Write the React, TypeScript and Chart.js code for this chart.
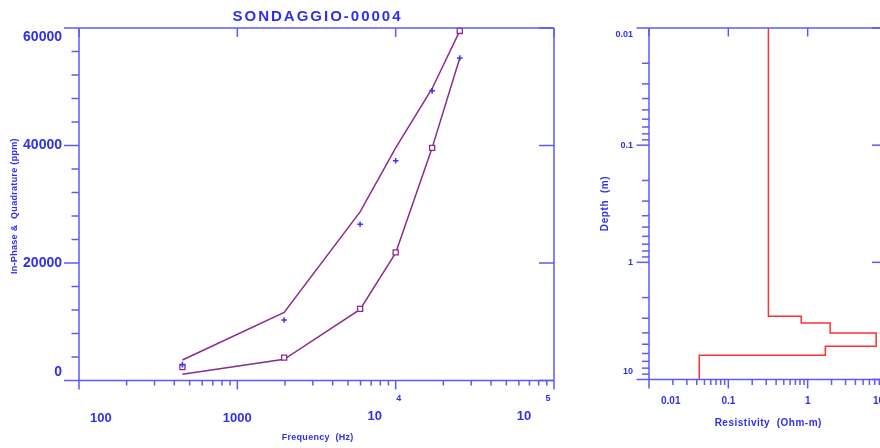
import React, { useEffect, useRef } from 'react';
import { Chart, registerables } from 'chart.js';

Chart.register(...registerables);

// ---------------- DATA ----------------
// Left panel: frequency sounding
const frequencies = [450, 1975, 5960, 10000, 17000, 25400];
const upperModel = [3490, 11600, 28700, 39600, 49700, 59500];
const lowerModel = [1050, 3600, 12100, 21700, 39600, 54900];
const plusObserved = [2700, 10300, 26600, 37400, 49300, 54900];
const squareObserved = [2300, 3900, 12200, 21800, 39600, 59500];

const freqMajorTicks = [100, 1000, 10000, 100000];
const freqMinorMultipliers = [2, 3, 4, 5, 6, 7, 8, 9];
const freqLabelBase = ['100', '1000', '10', '10'];
const freqLabelExp = ['', '', '4', '5'];

const ppmMajorTicks = [0, 20000, 40000, 60000];
const ppmMinorTicks = [4000, 8000, 12000, 16000, 24000, 28000, 32000, 36000, 44000, 48000, 52000, 56000];
const ppmLabels = ['0', '20000', '40000', '60000'];

// Right panel: layered resistivity model
const layerResistivity = [0.32, 0.83, 1.92, 7.3, 1.67, 0.043];
const layerBottomDepth = [2.89, 3.29, 4.01, 5.21, 6.22];
const depthMin = 0.01;
const depthMax = 10;
const resMin = 0.01;
const resMax = 10;

const resMajorTicks = [0.01, 0.1, 1, 10];
const resLabels = ['0.01', '0.1', '1', '10'];
const depthMajorTicks = [0.01, 0.1, 1, 10];
const depthLabels = ['0.01', '0.1', '1', '10'];
const logMinorMultipliers = [2, 3, 4, 5, 6, 7, 8, 9];

const titleText = 'SONDAGGIO-00004';

// ---------------- STYLE ----------------
const AXIS_COLOR = '#5a5aff';
const TEXT_COLOR = '#2f2ff0';
const MODEL_COLOR = '#8c2a90';
const PLUS_COLOR = '#3535ff';
const RED = '#ff3030';
const FONT = '"Liberation Sans", Arial, sans-serif';

function drawText(ctx: CanvasRenderingContext2D, s: string, x: number, y: number, size: number, align: string, spacing = 0, rotate = false) {
  ctx.save();
  ctx.font = `bold ${size}px ${FONT}`;
  ctx.fillStyle = TEXT_COLOR;
  ctx.textBaseline = 'middle';
  (ctx as any).letterSpacing = `${spacing}px`;
  ctx.translate(x, y);
  if (rotate) ctx.rotate(-Math.PI / 2);
  const w = ctx.measureText(s).width - spacing;
  const dx = align === 'center' ? -w / 2 : align === 'right' ? -w : 0;
  ctx.textAlign = 'left';
  ctx.fillText(s, dx, 0);
  ctx.restore();
}

function textWidth(ctx: CanvasRenderingContext2D, s: string, size: number) {
  ctx.save();
  ctx.font = `bold ${size}px ${FONT}`;
  (ctx as any).letterSpacing = '0px';
  const w = ctx.measureText(s).width;
  ctx.restore();
  return w;
}

function seg(ctx: CanvasRenderingContext2D, x1: number, y1: number, x2: number, y2: number) {
  ctx.beginPath();
  ctx.moveTo(x1, y1);
  ctx.lineTo(x2, y2);
  ctx.stroke();
}

function logMinors(majors: number[]) {
  const out: number[] = [];
  for (let i = 0; i < majors.length - 1; i++) {
    for (const m of logMinorMultipliers) out.push(majors[i] * m);
  }
  return out;
}

const leftAxesPlugin = {
  id: 'leftAxes',
  afterDraw(chart: any) {
    const ctx: CanvasRenderingContext2D = chart.ctx;
    const a = chart.chartArea;
    const xs = chart.scales.x;
    const ys = chart.scales.y;
    ctx.save();
    ctx.strokeStyle = AXIS_COLOR;
    ctx.lineWidth = 1.5;
    seg(ctx, a.left, a.top, a.right, a.top);
    seg(ctx, a.left, a.bottom, a.right, a.bottom);
    seg(ctx, a.left, a.top, a.left, a.bottom);
    seg(ctx, a.right, a.top, a.right, a.bottom);

    ppmMinorTicks.forEach((v) => {
      const p = ys.getPixelForValue(v);
      seg(ctx, a.left - 7.5, p, a.left, p);
    });
    ppmMajorTicks.forEach((v) => {
      const p = ys.getPixelForValue(v);
      seg(ctx, a.left - 15, p, a.left, p);
      seg(ctx, a.right - 15, p, a.right, p);
    });
    const fMinor: number[] = [];
    for (let i = 0; i < freqMajorTicks.length - 1; i++) {
      for (const m of freqMinorMultipliers) fMinor.push(freqMajorTicks[i] * m);
    }
    fMinor.forEach((v) => {
      const p = xs.getPixelForValue(v);
      seg(ctx, p, a.bottom, p, a.bottom + 5);
    });
    freqMajorTicks.forEach((v) => {
      const p = xs.getPixelForValue(v);
      seg(ctx, p, a.bottom, p, a.bottom + 9);
      seg(ctx, p, a.top, p, a.top + 9);
    });
    ctx.restore();

    // y labels
    ppmMajorTicks.forEach((v, i) => {
      let p = ys.getPixelForValue(v);
      p = Math.min(Math.max(p, a.top + 9), a.bottom - 8);
      drawText(ctx, ppmLabels[i], a.left - 17, p, 14, 'right');
    });

    // x labels
    freqMajorTicks.forEach((v, i) => {
      const p = xs.getPixelForValue(v);
      const base = freqLabelBase[i];
      const exp = freqLabelExp[i];
      const bw = textWidth(ctx, base, 13);
      if (!exp) {
        let cx = p;
        if (cx - bw / 2 < a.left + 11) cx = a.left + 11 + bw / 2;
        drawText(ctx, base, cx, 418.5, 13, 'center');
      } else {
        let bx = p - 21;
        let ex = p + 3;
        const ew = textWidth(ctx, exp, 9);
        const over = ex + ew / 2 - (a.right - 3.5);
        if (over > 0) {
          bx -= over;
          ex -= over;
        }
        drawText(ctx, base, bx, 416, 13, 'center');
        drawText(ctx, exp, ex, 399, 9, 'center');
      }
    });

    // titles
    const cx = (a.left + a.right) / 2;
    drawText(ctx, titleText, cx, 17, 15, 'center', 2);
    drawText(ctx, 'Frequency  (Hz)', cx + 1, 438, 9, 'center', 0.3);
    drawText(ctx, 'In-Phase &  Quadrature (ppm)', 15, (a.top + a.bottom) / 2 + 2, 9, 'center', 0.3, true);
  },
};

const rightAxesPlugin = {
  id: 'rightAxes',
  afterDraw(chart: any) {
    const ctx: CanvasRenderingContext2D = chart.ctx;
    const a = chart.chartArea;
    const xs = chart.scales.x;
    const ys = chart.scales.y;
    ctx.save();
    ctx.strokeStyle = AXIS_COLOR;
    ctx.lineWidth = 1.5;
    seg(ctx, a.left, a.top, a.right, a.top);
    seg(ctx, a.left, a.bottom, a.right, a.bottom);
    seg(ctx, a.left, a.top, a.left, a.bottom);
    seg(ctx, a.right, a.top, a.right, a.bottom);

    logMinors(depthMajorTicks).forEach((v) => {
      const p = ys.getPixelForValue(v);
      seg(ctx, a.left - 7, p, a.left, p);
    });
    depthMajorTicks.forEach((v) => {
      const p = ys.getPixelForValue(v);
      seg(ctx, a.left - 12.5, p, a.left, p);
      seg(ctx, a.right - 15, p, a.right, p);
    });
    logMinors(resMajorTicks).forEach((v) => {
      const p = xs.getPixelForValue(v);
      seg(ctx, p, a.bottom, p, a.bottom + 5.5);
    });
    resMajorTicks.forEach((v) => {
      const p = xs.getPixelForValue(v);
      seg(ctx, p, a.bottom, p, a.bottom + 9);
      seg(ctx, p, a.top, p, a.top + 8.5);
    });
    ctx.restore();

    depthMajorTicks.forEach((v, i) => {
      let p = ys.getPixelForValue(v);
      p = Math.min(Math.max(p, a.top + 7), a.bottom - 8);
      drawText(ctx, depthLabels[i], a.left - 16, p, 9, 'right');
    });
    resMajorTicks.forEach((v, i) => {
      const p = xs.getPixelForValue(v);
      const w = textWidth(ctx, resLabels[i], 10);
      let cx = p;
      if (cx - w / 2 < a.left + 12) cx = a.left + 12 + w / 2;
      if (cx + w / 2 > a.right - 3) cx = a.right - 3 - w / 2;
      drawText(ctx, resLabels[i], cx, 401, 10, 'center');
    });
    drawText(ctx, 'Resistivity  (Ohm-m)', (a.left + a.right) / 2, 423, 10, 'center', 0.5);
    drawText(ctx, 'Depth  (m)', 25, (a.top + a.bottom) / 2, 10, 'center', 0.6, true);
  },
};

function LeftChart() {
  const ref = useRef<HTMLCanvasElement>(null);
  useEffect(() => {
    const canvas = ref.current!;
    const chart = new Chart(canvas, {
      type: 'scatter',
      data: {
        datasets: [
          {
            data: frequencies.map((f, i) => ({ x: f, y: plusObserved[i] })),
            showLine: false,
            pointStyle: 'cross',
            pointRadius: 2.8,
            borderColor: PLUS_COLOR,
            backgroundColor: PLUS_COLOR,
            borderWidth: 1.5,
            clip: false,
          } as any,
          {
            data: frequencies.map((f, i) => ({ x: f, y: squareObserved[i] })),
            showLine: false,
            pointStyle: 'rect',
            pointRadius: 3.6,
            borderColor: MODEL_COLOR,
            backgroundColor: 'rgba(255,255,255,1)',
            borderWidth: 1.3,
            clip: false,
          } as any,
          {
            data: frequencies.map((f, i) => ({ x: f, y: upperModel[i] })),
            showLine: true,
            pointRadius: 0,
            borderColor: MODEL_COLOR,
            borderWidth: 1.5,
            clip: false,
          } as any,
          {
            data: frequencies.map((f, i) => ({ x: f, y: lowerModel[i] })),
            showLine: true,
            pointRadius: 0,
            borderColor: MODEL_COLOR,
            borderWidth: 1.5,
            clip: false,
          } as any,
        ],
      },
      options: {
        responsive: false,
        animation: false,
        devicePixelRatio: 1,
        events: [],
        layout: { padding: { left: 79, top: 28, right: 16, bottom: 67.5 } },
        plugins: { legend: { display: false }, tooltip: { enabled: false }, title: { display: false } },
        scales: {
          x: { type: 'logarithmic', min: 100, max: 100000, display: false },
          y: { type: 'linear', min: 0, max: 60000, display: false },
        },
      } as any,
      plugins: [leftAxesPlugin],
    });
    return () => chart.destroy();
  }, []);
  return <canvas ref={ref} width={570} height={448} style={{ position: 'absolute', left: 0, top: 0 }} />;
}

function RightChart() {
  const ref = useRef<HTMLCanvasElement>(null);
  useEffect(() => {
    const canvas = ref.current!;
    const pts: { x: number; y: number }[] = [{ x: layerResistivity[0], y: depthMin }];
    layerBottomDepth.forEach((d, i) => {
      pts.push({ x: layerResistivity[i], y: d });
      pts.push({ x: layerResistivity[i + 1], y: d });
    });
    pts.push({ x: layerResistivity[layerResistivity.length - 1], y: depthMax });
    const chart = new Chart(canvas, {
      type: 'scatter',
      data: {
        datasets: [
          {
            data: pts,
            showLine: true,
            pointRadius: 0,
            borderColor: RED,
            borderWidth: 1.5,
            clip: false,
          } as any,
        ],
      },
      options: {
        responsive: false,
        animation: false,
        devicePixelRatio: 1,
        events: [],
        layout: { padding: { left: 69, top: 28, right: 23, bottom: 68.5 } },
        plugins: { legend: { display: false }, tooltip: { enabled: false }, title: { display: false } },
        scales: {
          x: { type: 'logarithmic', min: resMin, max: resMax, display: false },
          y: { type: 'logarithmic', min: depthMin, max: depthMax, reverse: true, display: false },
        },
      } as any,
      plugins: [rightAxesPlugin],
    });
    return () => chart.destroy();
  }, []);
  return <canvas ref={ref} width={330} height={448} style={{ position: 'absolute', left: 580, top: 0 }} />;
}

export default function App() {
  return (
    <div style={{ position: 'fixed', left: 0, top: 0, width: 880, height: 448, overflow: 'hidden', background: '#ffffff' }}>
      <LeftChart />
      <RightChart />
    </div>
  );
}
